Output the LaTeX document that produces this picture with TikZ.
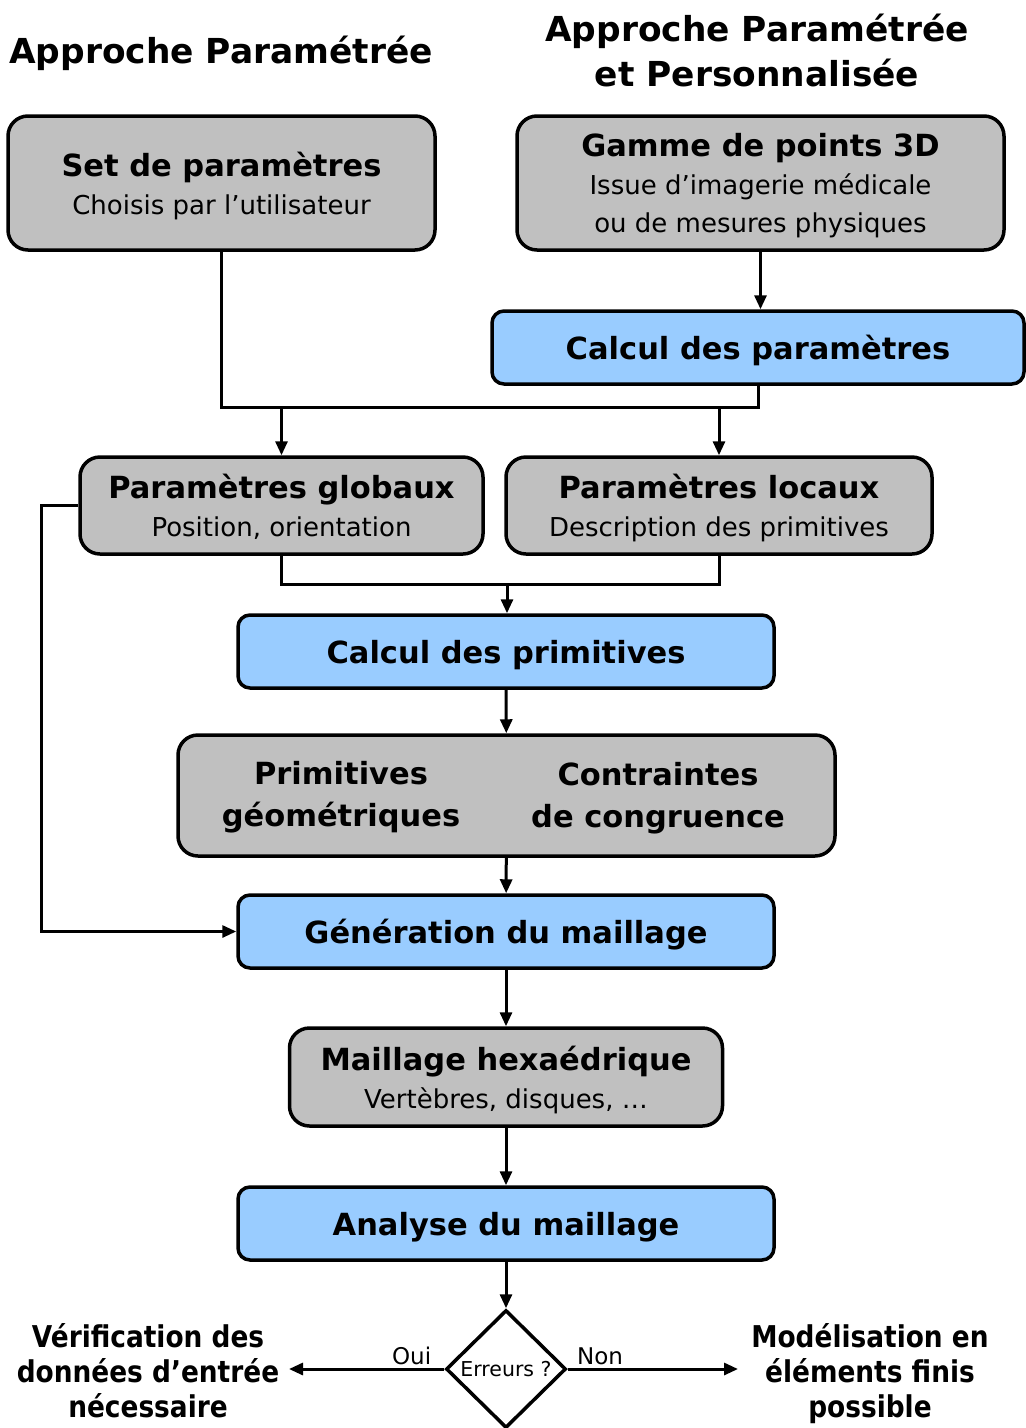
\documentclass[tikz,border=0pt]{standalone}
\usepackage{fontspec}
\setmainfont{DejaVu Sans}
\newfontfamily\condfont[FakeStretch=0.88]{DejaVu Sans}
\usepackage{tikz}
\usetikzlibrary{positioning}
\usetikzlibrary{shapes.geometric}
\usetikzlibrary{arrows.meta}
\definecolor{boxgrey}{HTML}{C0C0C0}
\definecolor{boxblue}{HTML}{99CCFF}
\newcommand{\btitle}[1]{{\bfseries\fontsize{30.5}{38}\selectfont #1}}

\begin{document}
\begin{tikzpicture}[x=1pt, y=-1pt,
    greybox/.style={draw, line width=3.5pt, fill=boxgrey, rounded corners=20pt, inner sep=0pt, text depth=0pt, align=center, font=\fontsize{26}{38}\selectfont},
    bluebox/.style={draw, line width=3.5pt, fill=boxblue, rounded corners=12pt, inner sep=0pt, text depth=0pt, minimum width=536pt, minimum height=73pt, font=\bfseries\fontsize{30.5}{38}\selectfont},
    link/.style={line width=3pt},
    arrow/.style={link, -{Triangle[length=14pt, width=12pt]}},
    heading/.style={align=center, font=\bfseries\fontsize{34.4}{45}\selectfont},
    outcome/.style={align=center, font=\condfont\bfseries\fontsize{30}{35}\selectfont}]

    \useasboundingbox (0,0) rectangle (1026,1428);

    \node[heading] (headl) at (221,53) {Approche Paramétrée};
    \node[heading] (headr) at (757,50.5) {Approche Paramétrée\\et Personnalisée};

    \node[greybox, minimum width=427pt, minimum height=134pt] (setparam) at (221.5,183) {\btitle{Set de paramètres}\\Choisis par l’utilisateur};
    \node[greybox, minimum width=487pt, minimum height=134pt] (gamme) at (760.5,183) {\btitle{Gamme de points 3D}\\Issue d’imagerie médicale\\ou de mesures physiques};
    \node[bluebox, minimum width=532pt, below=57.5pt of gamme, xshift=-2.5pt] (calcparam) {Calcul des paramètres};

    \node[greybox, minimum width=403pt, minimum height=97pt] (globaux) at (281.5,505.5) {\btitle{Paramètres globaux}\\Position, orientation};
    \node[greybox, minimum width=426pt, minimum height=97pt] (locaux) at (719,505.5) {\btitle{Paramètres locaux}\\Description des primitives};

    \node[bluebox] (calcprim) at (506,651.5) {Calcul des primitives};
    \node[greybox, minimum width=657pt, minimum height=121pt, below=43.5pt of calcprim, xshift=0.5pt] (primitives) {};
    \node[align=center, font=\bfseries\fontsize{30.5}{42}\selectfont] (geom) at (341,797) {Primitives\\géométriques};
    \node[align=center, font=\bfseries\fontsize{30.5}{42}\selectfont] (congru) at (658,798.5) {Contraintes\\de congruence};

    \node[bluebox, below=35.5pt of primitives, xshift=-0.5pt] (gener) {Génération du maillage};
    \node[greybox, minimum width=433pt, minimum height=98pt, below=56.5pt of gener] (hexa) {\btitle{Maillage hexaédrique}\\Vertèbres, disques, …};
    \node[bluebox, below=57.5pt of hexa] (analyse) {Analyse du maillage};
    \node[draw, diamond, line width=3.5pt, minimum width=120pt, minimum height=118pt, inner sep=0pt, font=\fontsize{20.5}{24}\selectfont, below=46.5pt of analyse] (erreurs) {Erreurs ?};

    \node[outcome] (verif) at (148,1371) {Vérification des\\données d’entrée\\nécessaire};
    \node[outcome] (modelis) at (870,1374) {Modélisation en\\éléments finis\\possible};

    \coordinate (split1) at (500,407);
    \coordinate (split2) at (507,584);
    \coordinate (loopx) at (41,0);
    \coordinate (oui) at (289,1369);
    \coordinate (non) at (738,1369);

    \draw[arrow] (gamme.south) -- (gamme.south |- calcparam.north);
    \draw[link] (setparam.south) |- (split1) -| (calcparam.south);
    \draw[arrow] (globaux.north |- split1) -- (globaux.north);
    \draw[arrow] (locaux.north |- split1) -- (locaux.north);
    \draw[link] (globaux.south) |- (split2) -| (locaux.south);
    \draw[arrow] (split2) -- (split2 |- calcprim.north);
    \draw[arrow] (calcprim) -- (primitives);
    \draw[arrow] (primitives) -- (gener);
    \draw[arrow] (globaux.west) -- (globaux.west -| loopx) |- (gener.west);
    \draw[arrow] (gener) -- (hexa);
    \draw[arrow] (hexa) -- (analyse);
    \draw[arrow] (analyse) -- (erreurs);
    \draw[arrow] (erreurs.west) -- node[pos=0.21, above, inner sep=3pt, font=\fontsize{23}{26}\selectfont] {Oui} (oui);
    \draw[arrow] (erreurs.east) -- node[pos=0.19, above, inner sep=3pt, font=\fontsize{23}{26}\selectfont] {Non} (non);

\end{tikzpicture}
\end{document}
